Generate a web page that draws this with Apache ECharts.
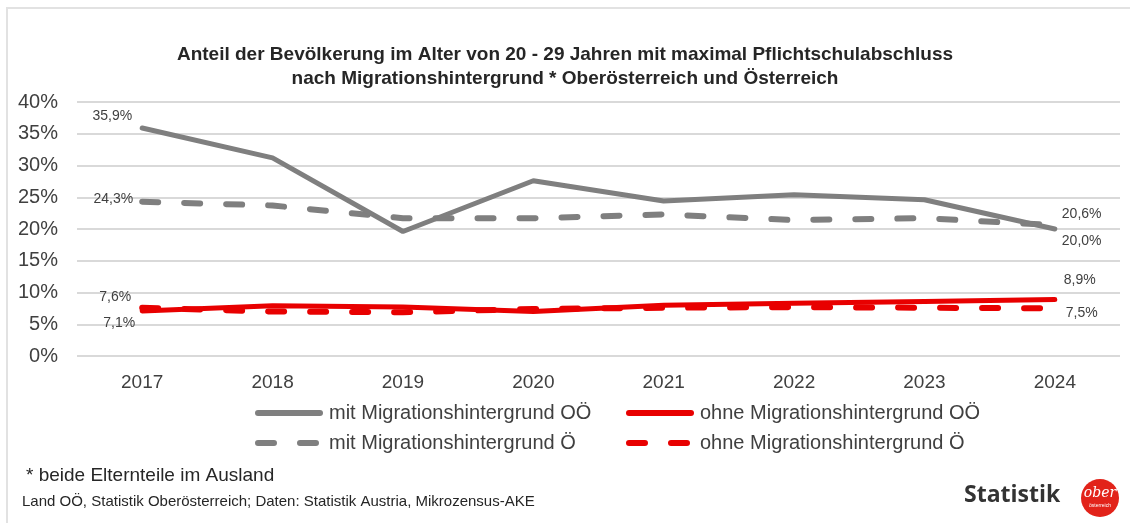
<!DOCTYPE html>
<html>
<head>
<meta charset="utf-8">
<script src="https://cdn.jsdelivr.net/npm/echarts@6/dist/echarts.min.js"></script>
<style>
  html, body { margin: 0; padding: 0; background: #fff; }
  #chart { width: 1130px; height: 523px; }
</style>
</head>
<body>
<div id="chart"></div>
<script>
  // Daten
  var years = ['2017', '2018', '2019', '2020', '2021', '2022', '2023', '2024'];
  var mitOOe = [35.9, 31.2, 19.6, 27.6, 24.4, 25.4, 24.6, 20.0];
  var mitOe = [24.3, 23.7, 21.7, 21.7, 22.3, 21.4, 21.7, 20.6];
  var ohneOOe = [7.1, 7.9, 7.7, 7.0, 8.0, 8.3, 8.6, 8.9];
  var ohneOe = [7.6, 7.0, 6.9, 7.4, 7.6, 7.7, 7.6, 7.5];
  var seriesNames = [
    'mit Migrationshintergrund OÖ',
    'ohne Migrationshintergrund OÖ',
    'mit Migrationshintergrund Ö',
    'ohne Migrationshintergrund Ö'
  ];

  var gray = '#7F7F7F';
  var red = '#E80000';
  var textCol = '#404040';
  var font = '"Liberation Sans", sans-serif';
  var dash = [16, 26];

  function fmt(v) {
    return v.toFixed(1).replace('.', ',') + '%';
  }

  // Beschriftung nur am ersten und letzten Punkt
  function labelData(values, firstLbl, lastLbl) {
    return values.map(function (v, i) {
      var item = { value: v };
      if (i === 0 && firstLbl) item.label = Object.assign({ show: true, position: 'left' }, firstLbl);
      if (i === values.length - 1 && lastLbl) item.label = Object.assign({ show: true, position: 'right' }, lastLbl);
      return item;
    });
  }

  var labelBase = {
    show: false,
    color: textCol,
    fontSize: 14,
    fontFamily: font,
    formatter: function (p) { return fmt(p.value); }
  };

  function lineSeries(name, values, color, dashed, firstLbl, lastLbl, z) {
    return {
      name: name,
      type: 'line',
      data: labelData(values, firstLbl, lastLbl),
      symbol: 'circle',
      symbolSize: 0.01,
      showSymbol: true,
      z: z,
      lineStyle: {
        color: color,
        width: dashed ? 6 : 5,
        type: dashed ? dash : 'solid',
        cap: 'round'
      },
      itemStyle: { color: color },
      label: labelBase
    };
  }

  var chart = echarts.init(document.getElementById('chart'));

  var legendBase = {
    itemWidth: 62,
    itemHeight: 12,
    itemGap: 0,
    itemStyle: { opacity: 0 },
    lineStyle: { width: 6, cap: 'round' },
    textStyle: { fontFamily: font, fontSize: 20, color: textCol, padding: [0, 0, 0, 4] }
  };

  var option = {
    animation: false,
    backgroundColor: '#fff',
    title: {
      text: 'Anteil der Bevölkerung im Alter von 20 - 29 Jahren mit maximal Pflichtschulabschluss\nnach Migrationshintergrund * Oberösterreich und Österreich',
      left: 560,
      textAlign: 'center',
      top: 38,
      textStyle: {
        fontFamily: font,
        fontSize: 19,
        fontWeight: 'bold',
        color: '#262626',
        lineHeight: 24
      }
    },
    legend: [
      Object.assign({ data: [seriesNames[0]], left: 250, top: 398 }, legendBase),
      Object.assign({ data: [seriesNames[1]], left: 621, top: 398 }, legendBase),
      Object.assign({ data: [seriesNames[2]], left: 250, top: 428 }, legendBase),
      Object.assign({ data: [seriesNames[3]], left: 621, top: 428 }, legendBase)
    ],
    grid: { left: 77, right: 10, top: 102, bottom: 167, containLabel: false },
    xAxis: {
      type: 'category',
      data: years,
      boundaryGap: true,
      axisLine: { show: false },
      axisTick: { show: false },
      axisLabel: { color: textCol, fontSize: 19, fontFamily: font, margin: 17 }
    },
    yAxis: {
      type: 'value',
      min: 0,
      max: 40,
      interval: 5,
      axisLine: { show: false },
      axisTick: { show: false },
      splitLine: { lineStyle: { color: '#D9D9D9', width: 2 } },
      axisLabel: {
        color: textCol,
        fontSize: 20,
        fontFamily: font,
        margin: 19,
        formatter: '{value}%'
      }
    },
    series: [
      lineSeries(seriesNames[2], mitOe, gray, true, { offset: [-4, -3] }, { offset: [2, -11] }, 2),
      lineSeries(seriesNames[3], ohneOe, red, true, { offset: [-6, -11] }, { offset: [6, 5] }, 3),
      lineSeries(seriesNames[0], mitOOe, gray, false, { offset: [-5, -12] }, { offset: [2, 12] }, 4),
      lineSeries(seriesNames[1], ohneOOe, red, false, { offset: [-2, 12] }, { offset: [4, -19] }, 5)
    ],
    graphic: [
      {
        type: 'rect',
        shape: { x: 7, y: 8, width: 1300, height: 700 },
        style: { fill: 'none', stroke: '#E2E2E2', lineWidth: 2 },
        silent: true
      },
      {
        type: 'text',
        left: 26,
        top: 466,
        style: { text: '* beide Elternteile im Ausland', fill: '#262626', font: '19px ' + font }
      },
      {
        type: 'text',
        left: 22,
        top: 494,
        style: { text: 'Land OÖ, Statistik Oberösterreich; Daten: Statistik Austria, Mikrozensus-AKE', fill: '#262626', font: '15px ' + font }
      },
      {
        type: 'text',
        left: 964,
        top: 484,
        style: { text: 'Statistik', fill: '#333', font: 'bold 23px "Open Sans", sans-serif' }
      },
      {
        type: 'circle',
        shape: { cx: 1100, cy: 498, r: 19 },
        style: { fill: '#E2231A' }
      },
      {
        type: 'text',
        x: 1100,
        y: 493,
        style: { text: 'ober', fill: '#fff', font: 'italic 14px "DejaVu Serif", serif', align: 'center', verticalAlign: 'middle' }
      },
      {
        type: 'text',
        x: 1100,
        y: 506,
        style: { text: 'österreich', fill: '#fff', font: '5px sans-serif', align: 'center', verticalAlign: 'middle' }
      }
    ]
  };

  option && chart.setOption(option);
</script>
</body>
</html>
